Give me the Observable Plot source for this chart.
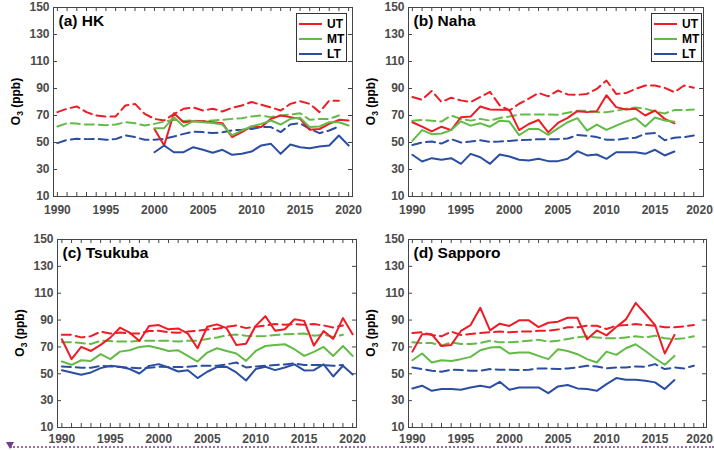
<!DOCTYPE html>
<html><head><meta charset="utf-8">
<script src="https://cdn.jsdelivr.net/npm/d3@7"></script>
<script src="https://cdn.jsdelivr.net/npm/@observablehq/plot@0.6"></script>
<style>
body{margin:0;background:#fff;font-family:"Liberation Sans",Arial,sans-serif}
#wrap{position:relative;width:714px;height:450px;overflow:hidden;background:#fff}
.panel{position:absolute}
.panel svg{overflow:visible}
.legend{position:absolute;box-sizing:border-box;border:1px solid #333;background:#fff}
.legend .row{position:absolute;left:0;height:14px;display:flex;align-items:center}
.legend .row span{font-weight:bold;font-size:12px;color:#000;margin-left:4px}
.deco{position:absolute;left:10px;top:446px;width:704px;border-top:2px dotted #9a6bb0}
.tri{position:absolute;left:6px;top:442px;width:0;height:0;border-left:4px solid transparent;border-right:4px solid transparent;border-top:7px solid #6f3f8f}
</style></head>
<body><div id="wrap"></div>
<script>
// ---- axis ticks ----
const yTicks = [10, 30, 50, 70, 90, 110, 130, 150];
const xLabelTicks = [1990, 1995, 2000, 2005, 2010, 2015, 2020];
const xMinorTicks = [1990,1991,1992,1993,1994,1995,1996,1997,1998,1999,2000,2001,2002,2003,2004,2005,2006,2007,2008,2009,2010,2011,2012,2013,2014,2015,2016,2017,2018,2019,2020];
const layers = ["UT", "MT", "LT"];
const layerColors = ["#ee1c25", "#62bb46", "#2b4ea2"];

// ---- year lists ----
const years1990_2020 = [1990,1991,1992,1993,1994,1995,1996,1997,1998,1999,2000,2001,2002,2003,2004,2005,2006,2007,2008,2009,2010,2011,2012,2013,2014,2015,2016,2017,2018,2019,2020];
const years1990_2019 = [1990,1991,1992,1993,1994,1995,1996,1997,1998,1999,2000,2001,2002,2003,2004,2005,2006,2007,2008,2009,2010,2011,2012,2013,2014,2015,2016,2017,2018,2019];
const years1990_2017 = [1990,1991,1992,1993,1994,1995,1996,1997,1998,1999,2000,2001,2002,2003,2004,2005,2006,2007,2008,2009,2010,2011,2012,2013,2014,2015,2016,2017];
const years2000_2020 = [2000,2001,2002,2003,2004,2005,2006,2007,2008,2009,2010,2011,2012,2013,2014,2015,2016,2017,2018,2019,2020];

// ---- (a) HK ----
const hkUT = [60, 47.8, 71.7, 65, 65.8, 65.8, 65, 64.3, 54, 57.7, 61.9, 61.4, 67.5, 70, 68.8, 67.5, 59.4, 60, 63.8, 66.8, 66.3];
const hkMT = [60.6, 60.6, 68.8, 61.9, 65.8, 65, 64.5, 63.3, 55.2, 58.9, 61.9, 63.8, 66.3, 63.3, 67.5, 68.3, 61.4, 61.9, 65, 65, 62.6];
const hkLT = [42.8, 47.8, 42.8, 42.8, 46.5, 44.6, 42.4, 44.6, 40.9, 41.6, 43.3, 47.8, 49, 41.6, 48.5, 46.5, 45.8, 47, 47.8, 55.2, 47.8];
const hkUTdash = [72.5, 75, 76.7, 72.5, 70, 69.3, 69.3, 77.4, 78.6, 71.2, 67.5, 66.3, 71, 75, 76, 73.7, 75, 73, 75.7, 77.4, 80, 78, 76, 73.7, 78.6, 80.6, 78.6, 72.5, 81, 81];
const hkMTdash = [61.9, 64.3, 64, 63.3, 63.3, 62.8, 63.3, 65, 64.3, 62.6, 63.8, 65.5, 66.8, 66, 66.3, 65.8, 66.3, 66.8, 67.5, 68, 69.3, 70, 68.8, 70, 70.7, 71.7, 66.8, 67.5, 67.5, 70];
const hkLTdash = [49.5, 52, 52.7, 52.5, 52.7, 52, 52.5, 55.2, 54, 52, 52, 52.7, 54.4, 56.4, 58, 57.7, 57, 57.5, 59, 59.4, 60, 61.4, 61.4, 57.7, 63.3, 64.3, 60, 56.9, 58.9, 61.9];

// ---- (b) Naha ----
const nahaUT = [65, 61.7, 58.2, 61.7, 59.2, 68.7, 69.2, 76.7, 74.5, 74.2, 74.2, 59.2, 63.7, 66.7, 57.5, 64.5, 68.2, 73.2, 72.5, 73.2, 85, 76.2, 74.5, 75, 70, 73.7, 67.5, 64.2];
const nahaMT = [51.2, 59.2, 56.2, 56.7, 59.2, 65.7, 62.5, 64.2, 61.7, 66.2, 65.5, 55.5, 60, 60, 55.7, 60.5, 65, 68, 58.8, 63.3, 59.3, 62.5, 65.5, 68, 61.8, 68.5, 66.3, 65.3];
const nahaLT = [40.9, 35.9, 38.4, 37.2, 38.4, 34.2, 41.6, 39.1, 34.2, 41.1, 39.6, 37.2, 36.7, 37.9, 36.2, 36.2, 37.9, 43.6, 40.4, 41.1, 37.9, 42.8, 42.8, 42.8, 41.6, 44.6, 40.4, 43.3];
const nahaUTdash = [83.7, 81.7, 88.2, 80, 83.2, 81.2, 80, 83.7, 87.5, 77.5, 73.7, 78.7, 82.5, 86.7, 84.2, 88.5, 85.6, 85.3, 86, 89.7, 95.9, 86, 86.6, 89.7, 92.2, 92.2, 90.5, 87.3, 92.2, 90.5];
const nahaMTdash = [66.2, 66.7, 66.2, 65.5, 70, 67.5, 66.2, 67.5, 66.2, 68.2, 69.2, 70.7, 70.7, 70.7, 70.7, 70.5, 72, 73.5, 73.5, 72.5, 72.5, 73.5, 75, 76, 75, 73, 71.5, 74, 74, 74.5];
const nahaLTdash = [48.2, 50, 50.7, 49.2, 52.5, 50, 50.7, 51.7, 50.5, 50.7, 51.2, 51.7, 52, 52.5, 52.5, 52.5, 53, 55.5, 55, 54, 52, 52, 53, 53.5, 56.5, 57, 51.7, 53.5, 54, 55.2];

// ---- (c) Tsukuba ----
const tsuUT = [75.7, 60.9, 70, 67, 71.5, 76.9, 84.3, 80.6, 74.4, 85.6, 86.3, 83.1, 83.8, 79.9, 69, 85, 86.8, 84, 71.5, 72.3, 85.7, 92.9, 82, 83.2, 90.6, 89.4, 71, 81.8, 76, 91.5, 79.5];
const tsuMT = [59.1, 56.7, 60.1, 59.6, 64.6, 60.9, 66.5, 67.5, 70, 70.7, 69, 67, 67.5, 63.3, 59.1, 65.8, 69, 67, 65.1, 59.6, 67, 70.7, 71.5, 72, 68.3, 63.3, 66.3, 70, 63.3, 70.7, 63.3];
const tsuLT = [52.7, 51, 49.3, 51, 54.2, 55.9, 55.2, 53.5, 50.2, 55.9, 57.2, 54.7, 51.7, 52.7, 46.8, 51.5, 55, 55.2, 51, 45, 53.5, 55.2, 52.7, 54.7, 57, 52.5, 52.7, 57, 48, 56, 49.5];
const tsuUTdash = [79, 79, 77.1, 78, 81.4, 80, 80.7, 80, 80, 81.9, 82, 81, 80.5, 81.4, 82, 83, 83.5, 85, 86, 84, 85, 86, 87, 86.5, 87, 86.5, 87, 86, 84.5, 86];
const tsuMTdash = [73.5, 73.5, 72.9, 72.2, 74.6, 74.4, 74, 74, 74.6, 74.6, 74.6, 74.6, 74, 74.6, 74.6, 75.9, 77.1, 78.5, 79.2, 78.4, 77.9, 78.2, 78.9, 79.4, 79.6, 80, 78.4, 79, 77.5, 79];
const tsuLTdash = [55.5, 55, 54.5, 54.5, 55.9, 55.5, 55, 54.5, 54.2, 54.5, 55.2, 55, 55, 55.2, 55.9, 55.9, 56, 57, 58.4, 54.7, 55.5, 56, 56.5, 57, 57.7, 56.5, 56.5, 56.5, 56, 56.5];

// ---- (d) Sapporo ----
const sapUT = [66.5, 79.4, 79.4, 70.7, 71.5, 81.9, 86.3, 99.1, 82.3, 87.3, 85.6, 89.8, 89.8, 84.8, 88, 88.8, 91.7, 91.7, 75.7, 82.3, 78.6, 84.8, 90.5, 102.8, 94.7, 86.3, 65.1, 78.9];
const sapMT = [60.1, 65.1, 58.4, 60.1, 59.6, 60.9, 62.6, 67.5, 69.5, 70, 65.1, 65.8, 65.8, 63.3, 60.9, 68.3, 67, 64.6, 60.9, 58.4, 66.5, 64.1, 69, 72, 67, 61.6, 56.7, 63.3];
const sapLT = [39.1, 41.1, 37.3, 38.6, 38.6, 38.1, 39.8, 41.1, 39.8, 44, 38.1, 39.8, 39.8, 39.8, 35.6, 40.6, 41.6, 39.1, 38.6, 37.3, 42.3, 46.8, 45.5, 45.5, 44.8, 43.6, 38.6, 45.3];
const sapUTdash = [80.4, 80.9, 78.9, 77.9, 81.4, 78.9, 79.6, 80.4, 80.9, 81.4, 80.9, 81.4, 81.4, 82.1, 82.1, 82.9, 84.6, 84.6, 85.8, 85.8, 83.3, 85.8, 86.3, 87, 86.3, 85.8, 84.6, 84.6, 85.3, 86.3];
const sapMTdash = [73.4, 72.9, 72.9, 70.9, 73.4, 72.2, 72.2, 72.9, 74.6, 73.4, 73.4, 73.9, 74.6, 75.4, 73.9, 74.6, 75.9, 77.1, 77.9, 77.1, 76.4, 76.4, 77.1, 77.9, 77.1, 78.4, 76.4, 75.9, 76.4, 77.9];
const sapLTdash = [54.7, 53.5, 52.3, 51.5, 53, 52.8, 52.3, 52.3, 53.5, 53, 53, 52.8, 53, 54, 54, 53.5, 54, 54.7, 56, 55.5, 54, 54.7, 54.7, 55.5, 55.2, 57.2, 53.5, 54.7, 54, 56];

const panels = [
  {title: "(a) HK", left: 0, top: 0, width: 357, height: 225, ml: 53, mr: 5, mt: 7, mb: 29, xDomain: [1989.6, 2020.4], xPad: 9, lastDx: 0, legend: true,
   series: [
     {layer: "UT", kind: "dash", years: years1990_2019, values: hkUTdash},
     {layer: "MT", kind: "dash", years: years1990_2019, values: hkMTdash},
     {layer: "LT", kind: "dash", years: years1990_2019, values: hkLTdash},
     {layer: "UT", kind: "solid", years: years2000_2020, values: hkUT},
     {layer: "MT", kind: "solid", years: years2000_2020, values: hkMT},
     {layer: "LT", kind: "solid", years: years2000_2020, values: hkLT}]},
  {title: "(b) Naha", left: 355, top: 0, width: 359, height: 225, ml: 53, mr: 11, mt: 7, mb: 29, xDomain: [1989.6, 2020.0], xPad: 9, lastDx: -4, legend: true,
   series: [
     {layer: "UT", kind: "dash", years: years1990_2019, values: nahaUTdash},
     {layer: "MT", kind: "dash", years: years1990_2019, values: nahaMTdash},
     {layer: "LT", kind: "dash", years: years1990_2019, values: nahaLTdash},
     {layer: "UT", kind: "solid", years: years1990_2017, values: nahaUT},
     {layer: "MT", kind: "solid", years: years1990_2017, values: nahaMT},
     {layer: "LT", kind: "solid", years: years1990_2017, values: nahaLT}]},
  {title: "(c) Tsukuba", left: 0, top: 225, width: 357, height: 225, ml: 57, mr: 1, mt: 14, mb: 23, xDomain: [1989.55, 2020.4], xPad: 7, lastDx: 0, legend: false,
   series: [
     {layer: "UT", kind: "dash", years: years1990_2019, values: tsuUTdash},
     {layer: "MT", kind: "dash", years: years1990_2019, values: tsuMTdash},
     {layer: "LT", kind: "dash", years: years1990_2019, values: tsuLTdash},
     {layer: "UT", kind: "solid", years: years1990_2020, values: tsuUT},
     {layer: "MT", kind: "solid", years: years1990_2020, values: tsuMT},
     {layer: "LT", kind: "solid", years: years1990_2020, values: tsuLT}]},
  {title: "(d) Sapporo", left: 355, top: 225, width: 359, height: 225, ml: 53, mr: 8, mt: 14, mb: 23, xDomain: [1989.6, 2020.3], xPad: 7, lastDx: -4, legend: false,
   series: [
     {layer: "UT", kind: "dash", years: years1990_2019, values: sapUTdash},
     {layer: "MT", kind: "dash", years: years1990_2019, values: sapMTdash},
     {layer: "LT", kind: "dash", years: years1990_2019, values: sapLTdash},
     {layer: "UT", kind: "solid", years: years1990_2017, values: sapUT},
     {layer: "MT", kind: "solid", years: years1990_2017, values: sapMT},
     {layer: "LT", kind: "solid", years: years1990_2017, values: sapLT}]}
];

const wrap = document.getElementById("wrap");
const tickColor = "#444";
const labelColor = "#4a4a4a";

for (const p of panels) {
  const rows = [];
  for (const s of p.series) s.values.forEach((v, i) => rows.push({year: s.years[i], value: v, layer: s.layer, kind: s.kind}));
  const iw = p.width - p.ml - p.mr, ih = p.height - p.mt - p.mb;
  const axisOpts = {tickSize: 0, tickPadding: p.xPad, fontSize: 12, fontWeight: "bold", fill: labelColor, label: null, tickFormat: d => String(d)};
  const chart = Plot.plot({
    width: p.width, height: p.height,
    marginLeft: p.ml, marginRight: p.mr, marginTop: p.mt, marginBottom: p.mb,
    x: {domain: p.xDomain, axis: null},
    y: {domain: [10, 150], axis: null},
    color: {domain: layers, range: layerColors},
    style: {fontFamily: "Liberation Sans, Arial, sans-serif", background: "transparent", overflow: "visible"},
    marks: [
      Plot.line(rows.filter(d => d.kind === "dash"), {x: "year", y: "value", z: "layer", stroke: "layer", strokeWidth: 2, strokeDasharray: "9,5"}),
      Plot.line(rows.filter(d => d.kind === "solid"), {x: "year", y: "value", z: "layer", stroke: "layer", strokeWidth: 2}),
      Plot.tickY(yTicks, {y: d => d, stroke: tickColor, insetRight: iw - 4}),
      Plot.tickY(yTicks, {y: d => d, stroke: tickColor, insetLeft: iw - 4}),
      Plot.tickX(xMinorTicks, {x: d => d, stroke: tickColor, insetTop: ih - 4}),
      Plot.tickX(xMinorTicks, {x: d => d, stroke: tickColor, insetBottom: ih - 4}),
      Plot.frame({stroke: tickColor}),
      Plot.axisY(yTicks, {tickSize: 0, tickPadding: 4, fontSize: 12, fontWeight: "bold", fill: labelColor, label: null, tickFormat: d => String(d)}),
      Plot.axisX(xLabelTicks.slice(0, -1), axisOpts),
      Plot.axisX(xLabelTicks.slice(-1), {...axisOpts, dx: p.lastDx}),
      Plot.text([p.title], {frameAnchor: "top-left", dx: 5, dy: 7, text: d => d, textAnchor: "start", lineAnchor: "top", fontSize: 15.5, fontWeight: "bold", fill: "#000"})
    ]
  });
  // y-axis title with subscript
  const t = d3.select(chart).append("text")
    .attr("transform", `translate(${p.ml - 37},${p.mt + ih / 2}) rotate(-90)`)
    .attr("text-anchor", "middle").attr("dy", "0.35em")
    .attr("font-size", 12).attr("font-weight", "bold").attr("fill", "#000")
    .attr("font-family", "Liberation Sans, Arial, sans-serif");
  t.append("tspan").text("O");
  t.append("tspan").attr("font-size", 8.5).attr("dy", 3).text("3");
  t.append("tspan").attr("dy", -3).text(" (ppb)");

  const div = document.createElement("div");
  div.className = "panel";
  div.style.left = p.left + "px";
  div.style.top = p.top + "px";
  div.appendChild(chart);
  wrap.appendChild(div);

  if (p.legend) {
    const lg = document.createElement("div");
    lg.className = "legend";
    const frameRight = p.left + p.width - p.mr;
    lg.style.left = (frameRight - (p.mr > 6 ? 52 : 56)) + "px";
    lg.style.top = (p.top + 13) + "px";
    lg.style.width = "51px";
    lg.style.height = "49px";
    layers.forEach((name, i) => {
      const row = document.createElement("div");
      row.className = "row";
      row.style.top = (3 + i * 15) + "px";
      row.innerHTML = `<svg width="26" height="14" style="display:block"><line x1="2" x2="25" y1="7" y2="7" stroke="${layerColors[i]}" stroke-width="2"/></svg><span>${name}</span>`;
      lg.appendChild(row);
    });
    wrap.appendChild(lg);
  }
}
const deco = document.createElement("div"); deco.className = "deco"; wrap.appendChild(deco);
const tri = document.createElement("div"); tri.className = "tri"; wrap.appendChild(tri);
</script>
</body></html>
